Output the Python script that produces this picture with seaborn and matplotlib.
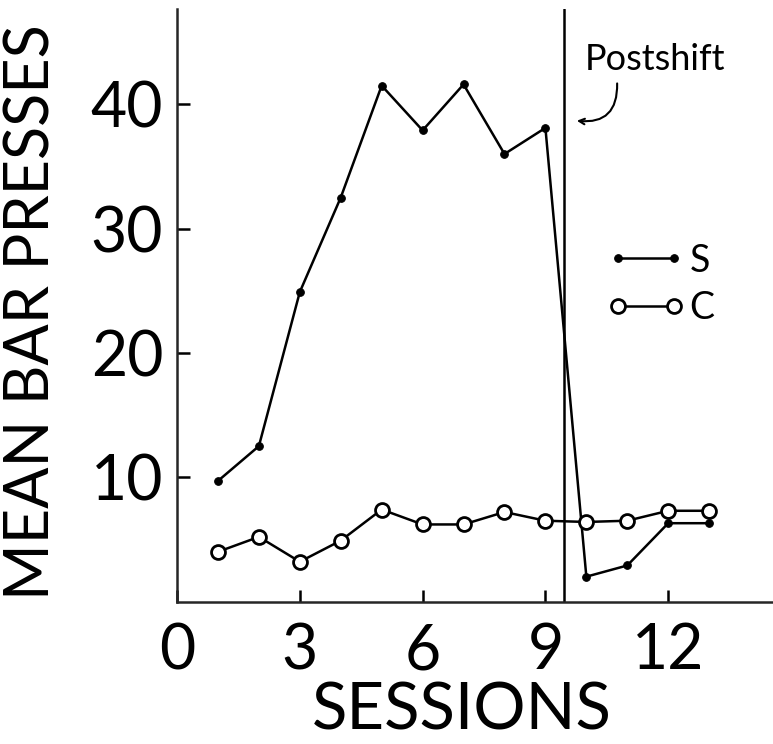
import numpy as np
import pandas as pd
import matplotlib
matplotlib.use("Agg")
import matplotlib.pyplot as plt
import seaborn as sns

# Datos
sessions = list(range(1, 14))
s_vals = [9.7, 12.5, 24.9, 32.5, 41.5, 37.9, 41.6, 36.0, 38.1, 2.0, 2.9, 6.3, 6.3]
c_vals = [4.0, 5.2, 3.2, 4.9, 7.4, 6.2, 6.2, 7.2, 6.5, 6.4, 6.5, 7.3, 7.3]
x_ticks = [0, 3, 6, 9, 12]
y_ticks = [10, 20, 30, 40]
shift_at = 9.45

sns.set_style("ticks")
hand = ["Lato", "Liberation Sans", "DejaVu Sans"]
plt.rcParams["font.family"] = hand
plt.rcParams["text.color"] = "black"
plt.rcParams["xtick.color"] = "black"
plt.rcParams["ytick.color"] = "black"
plt.rcParams["axes.labelcolor"] = "black"

fig = plt.figure(figsize=(7.73, 7.44), dpi=100)
ax = fig.add_axes([0.229, 0.1915, 0.771, 0.797])

# Grupo S: puntos llenos
sns.lineplot(x=sessions, y=s_vals, ax=ax, color="black", lw=1.8,
             marker="o", markersize=5.5, markerfacecolor="black",
             markeredgecolor="black", label="S")
# Grupo C: círculos abiertos
sns.lineplot(x=sessions, y=c_vals, ax=ax, color="black", lw=1.8,
             marker="o", markersize=10, markerfacecolor="white",
             markeredgecolor="black", markeredgewidth=2, label="C")

ax.axvline(shift_at, color="black", lw=1.8)

ax.set_xlim(0, 14.56)
ax.set_ylim(0, 47.7)
ax.set_xticks(x_ticks)
ax.set_xticklabels([str(t) for t in x_ticks])
ax.set_yticks(y_ticks)
ax.set_yticklabels([str(t) for t in y_ticks])
ax.tick_params(axis="both", direction="in", length=9, width=1.8, labelsize=45)
ax.tick_params(axis="x", pad=15)
ax.tick_params(axis="y", pad=10)

sns.despine(ax=ax)
for side in ["left", "bottom"]:
    ax.spines[side].set_linewidth(1.8)

ax.set_xlabel("SESSIONS", fontsize=47)
ax.xaxis.set_label_coords(0.478, -0.135)
ax.set_ylabel("MEAN BAR PRESSES", fontsize=44)
ax.yaxis.set_label_coords(-0.196, 0.488)

# Anotación "Postshift" con flecha curva
ax.text(9.95, 43.6, "Postshift", fontsize=26, va="center", ha="left")
ax.annotate("", xy=(9.7, 38.7), xytext=(10.75, 41.9),
            arrowprops=dict(arrowstyle="->", color="black", lw=1.5,
                            connectionstyle="arc3,rad=-0.6"))

leg = ax.legend(loc="upper left", bbox_to_anchor=(0.69, 0.637), frameon=False,
                numpoints=2, handlelength=2.1, handletextpad=0.1,
                fontsize=27, borderpad=0, labelspacing=0.3)

fig.savefig("out.png", dpi=100)
